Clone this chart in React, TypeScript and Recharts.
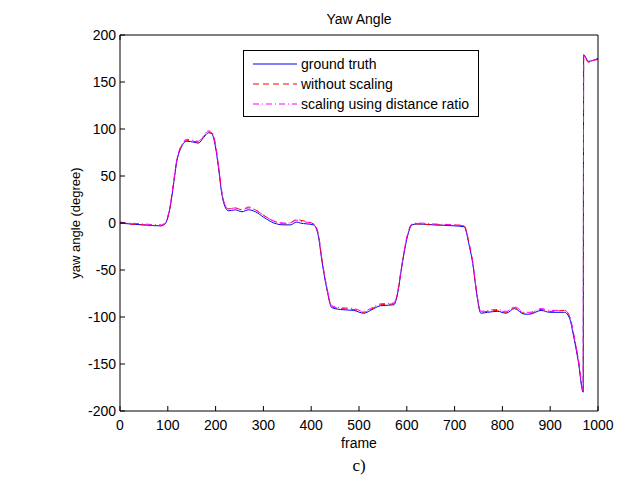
import React from "react";
import { LineChart, Line, XAxis, YAxis } from "recharts";

// frame numbers sampled along the curves
const frames = [
  0, 20, 49, 84, 94, 105, 112, 119, 126, 140, 154, 164, 175, 185, 192, 199, 206, 213, 220, 227,
  241, 255, 269, 283, 301, 322, 343, 356, 370, 377, 405, 415, 422, 433, 443, 461, 489, 510, 524, 545,
  573, 580, 590, 601, 611, 622, 657, 699, 720, 731, 738, 745, 755, 769, 790, 808, 825, 846, 857, 881,
  899, 930, 941, 948, 959, 969, 970, 980, 990, 1000,
];

const groundTruth = [
  0, -1, -2, -3, -1, 17, 41, 66, 78, 87, 86, 85, 91, 96, 95, 83, 59, 31, 17, 13,
  14, 12, 14, 12, 6, 0, -2, -2, 1, 0, -2, -14, -39, -71, -90, -92, -93, -96, -93, -88,
  -87, -77, -45, -15, -2, -1, -2, -3, -4, -25, -43, -71, -96, -95, -94, -96, -91, -97, -97, -93,
  -95, -95, -102, -118, -148, -180, 179, 172, 173, 175,
];

const withoutScaling = [
  0, -1, -2, -3, -1, 18, 43, 67, 79, 88, 87, 86, 92, 97, 96, 85, 61, 33, 18, 15,
  16, 14, 17, 14, 8, 2, -1, 0, 4, 3, -1, -12, -37, -70, -89, -91, -92, -95, -92, -87,
  -86, -76, -44, -14, -1, -1, -2, -2, -3, -24, -42, -70, -95, -94, -93, -95, -90, -96, -96, -92,
  -94, -93, -100, -116, -146, -179, 178, 171, 173, 174,
];

const distanceRatio = [
  1, 0, -1, -2, 0, 19, 43, 68, 80, 89, 88, 87, 93, 98, 97, 86, 62, 33, 19, 15,
  16, 14, 16, 14, 8, 2, 0, 0, 3, 2, -1, -12, -37, -69, -88, -90, -91, -94, -91, -86,
  -85, -75, -43, -13, -1, 0, -1, -2, -3, -23, -41, -69, -94, -93, -92, -94, -89, -95, -95, -91,
  -93, -93, -99, -115, -145, -178, 178, 172, 173, 175,
];

const xTicks = [0, 100, 200, 300, 400, 500, 600, 700, 800, 900, 1000];
const yTicks = [-200, -150, -100, -50, 0, 50, 100, 150, 200];

const series = [
  { key: "gt", name: "ground truth", color: "#0000ff", dash: undefined },
  { key: "ws", name: "without scaling", color: "#ff0000", dash: "6 4" },
  { key: "dr", name: "scaling using distance ratio", color: "#ff00ff", dash: "6 3 1 3" },
];

const data = frames.map((f, i) => ({
  frame: f,
  gt: groundTruth[i],
  ws: withoutScaling[i],
  dr: distanceRatio[i],
}));

const font = "'Liberation Sans', Arial, sans-serif";
const TL = 5; // inward tick length
const BM = 8; // bottom label gap
const LM = 4; // left label gap

// matlab style ticks: drawn inward, labels outside
const bottomTick = (p: any) => (
  <g>
    <line x1={p.x} y1={p.y - BM} x2={p.x} y2={p.y - BM - TL} stroke="#000" />
    <text x={p.x} y={p.y} dy="0.78em" textAnchor="middle" fontSize={14} fontFamily={font} fill="#000">
      {p.payload.value}
    </text>
  </g>
);
const leftTick = (p: any) => (
  <g>
    <line x1={p.x + LM} y1={p.y} x2={p.x + LM + TL} y2={p.y} stroke="#000" />
    <text x={p.x} y={p.y} dy="0.36em" textAnchor="end" fontSize={14} fontFamily={font} fill="#000">
      {p.payload.value}
    </text>
  </g>
);
const topTick = (p: any) => <line x1={p.x} y1={p.y} x2={p.x} y2={p.y + TL} stroke="#000" />;
const rightTick = (p: any) => <line x1={p.x} y1={p.y} x2={p.x - TL} y2={p.y} stroke="#000" />;

export default function App() {
  return (
    <div style={{ position: "absolute", left: 0, top: 0, width: 629, height: 492, background: "#fff" }}>
      <LineChart
        width={629}
        height={492}
        data={data}
        margin={{ top: 25, right: 21, bottom: 51, left: 80 }}
      >
        <XAxis
          dataKey="frame"
          type="number"
          domain={[0, 1000]}
          ticks={xTicks}
          height={30}
          tickSize={0}
          tickMargin={BM}
          tickLine={false}
          stroke="#000"
          tick={bottomTick}
          interval={0}
        />
        <XAxis
          xAxisId="top"
          orientation="top"
          type="number"
          domain={[0, 1000]}
          ticks={xTicks}
          height={10}
          tickSize={0}
          tickMargin={0}
          tickLine={false}
          stroke="#000"
          tick={topTick}
          interval={0}
        />
        <YAxis
          type="number"
          domain={[-200, 200]}
          ticks={yTicks}
          width={40}
          tickSize={0}
          tickMargin={LM}
          tickLine={false}
          stroke="#000"
          tick={leftTick}
          interval={0}
        />
        <YAxis
          yAxisId="right"
          orientation="right"
          type="number"
          domain={[-200, 200]}
          ticks={yTicks}
          width={10}
          tickSize={0}
          tickMargin={0}
          tickLine={false}
          stroke="#000"
          tick={rightTick}
          interval={0}
        />
        {series.map((s) => (
          <Line
            key={s.key}
            dataKey={s.key}
            name={s.name}
            type="monotone"
            stroke={s.color}
            strokeWidth={1}
            strokeDasharray={s.dash}
            dot={false}
            isAnimationActive={false}
          />
        ))}
      </LineChart>

      {/* title, axis labels and caption */}
      <div style={{ position: "absolute", left: 259, width: 200, top: 11, textAlign: "center", fontFamily: font, fontSize: 14 }}>
        Yaw Angle
      </div>
      <div style={{ position: "absolute", left: 259, width: 200, top: 435, textAlign: "center", fontFamily: font, fontSize: 14 }}>
        frame
      </div>
      <div style={{ position: "absolute", left: 259, width: 200, top: 456, textAlign: "center", fontFamily: "'Liberation Serif', 'Times New Roman', serif", fontSize: 17 }}>
        c)
      </div>
      <div
        style={{
          position: "absolute",
          left: 75,
          top: 223,
          transform: "translate(-50%, -50%) rotate(-90deg)",
          whiteSpace: "nowrap",
          fontFamily: font,
          fontSize: 13,
        }}
      >
        yaw angle (degree)
      </div>

      {/* legend */}
      <div
        style={{
          position: "absolute",
          left: 243,
          top: 50,
          width: 234,
          height: 65,
          border: "1px solid #000",
          background: "#fff",
          fontFamily: font,
          fontSize: 14,
        }}
      >
        {series.map((s, i) => (
          <div key={s.key} style={{ position: "absolute", left: 8, top: 4 + i * 20, height: 18, display: "flex", alignItems: "center" }}>
            <svg width={46} height={18}>
              <line x1={1} y1={9} x2={45} y2={9} stroke={s.color} strokeWidth={1} strokeDasharray={s.dash} />
            </svg>
            <span style={{ marginLeft: 3, whiteSpace: "nowrap" }}>{s.name}</span>
          </div>
        ))}
      </div>
    </div>
  );
}
